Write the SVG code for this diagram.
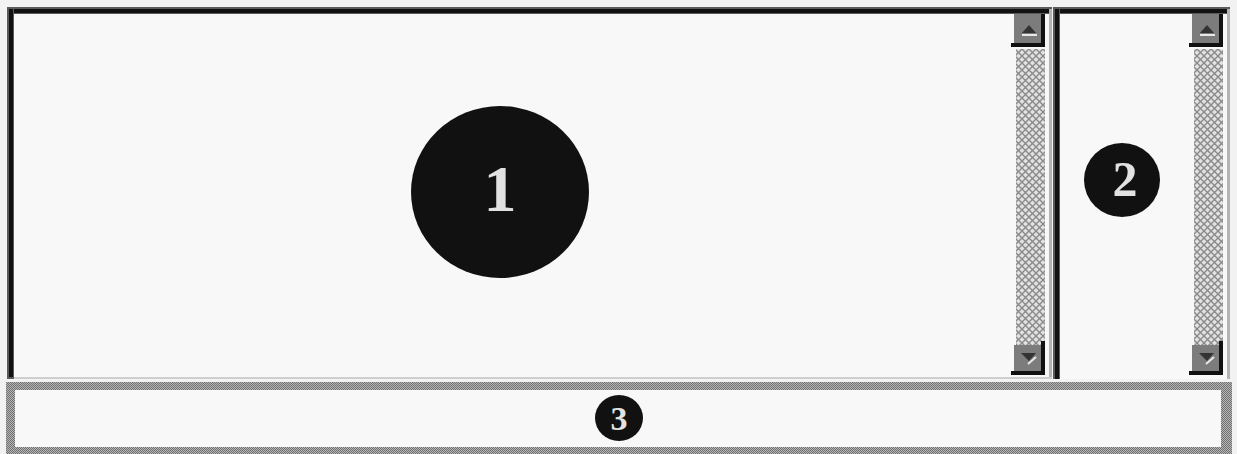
<svg xmlns="http://www.w3.org/2000/svg" width="1237" height="454" viewBox="0 0 1237 454">
<defs>
<pattern id="hatch" width="7" height="7" patternUnits="userSpaceOnUse">
<rect width="7" height="7" fill="#e2e2e2"/>
<path d="M0,0 L7,7 M7,0 L0,7" stroke="#8a8a8a" stroke-width="1.4"/>
</pattern>
<pattern id="checker" width="2" height="2" patternUnits="userSpaceOnUse">
<rect width="2" height="2" fill="#b4b4b4"/>
<rect width="1" height="1" fill="#727272"/>
<rect x="1" y="1" width="1" height="1" fill="#727272"/>
</pattern>
<g id="upbtn">
<rect x="0" y="0" width="30" height="30" fill="#7c7c7c"/>
<rect x="27" y="0" width="4" height="33" fill="#111"/>
<rect x="-3" y="29" width="34" height="4" fill="#111"/>
<path d="M8,19 L15,11 L22,19 Z" fill="#333"/>
<rect x="8" y="20" width="15" height="2" fill="#e8e8e8"/>
</g>
<g id="downbtn">
<rect x="0" y="0" width="30" height="28" fill="#7c7c7c"/>
<rect x="27" y="-4" width="4" height="32" fill="#111"/>
<rect x="-3" y="26" width="34" height="4" fill="#111"/>
<path d="M7,8 L22,8 L15,16 Z" fill="#333"/>
<path d="M14,19 L22,12" stroke="#e8e8e8" stroke-width="2"/>
</g>
</defs>
<style>
.num{font-family:"Liberation Serif","Times New Roman",serif;font-weight:bold;fill:#e2e2e2;text-anchor:middle}
.dot{fill:#111}
</style>
<rect width="1237" height="454" fill="#f2f2f2"/>

<g id="pane1">
<rect x="8" y="8" width="1044" height="371" fill="#f8f8f8"/>
<rect x="7" y="7" width="1045" height="7" fill="#5a5a5a"/>
<rect x="9" y="9" width="1043" height="4" fill="#111"/>
<rect x="7" y="7" width="7" height="372" fill="#5a5a5a"/>
<rect x="9" y="9" width="4" height="368" fill="#111"/>
<rect x="1049" y="9" width="3" height="370" fill="#b4b4b4"/>
<rect x="14" y="377" width="1038" height="2" fill="#cfcfcf"/>
</g>

<g id="scrollbar1">
<rect x="1016" y="49" width="29" height="296" fill="url(#hatch)"/>
<use href="#upbtn" x="1014" y="14"/>
<use href="#downbtn" x="1014" y="345"/>
</g>

<g id="pane2">
<rect x="1054" y="8" width="176" height="371" fill="#f8f8f8"/>
<rect x="1053" y="7" width="177" height="7" fill="#5a5a5a"/>
<rect x="1055" y="9" width="172" height="4" fill="#111"/>
<rect x="1053" y="7" width="7" height="372" fill="#5a5a5a"/>
<rect x="1055" y="9" width="4" height="370" fill="#111"/>
<rect x="1227" y="9" width="3" height="370" fill="#b4b4b4"/>
</g>

<g id="scrollbar2">
<rect x="1194" y="49" width="29" height="296" fill="url(#hatch)"/>
<use href="#upbtn" x="1192" y="14"/>
<use href="#downbtn" x="1192" y="345"/>
</g>

<g id="pane3">
<rect x="6" y="382" width="1226" height="72" fill="url(#checker)"/>
<rect x="15" y="390" width="1206" height="57" fill="#f8f8f8"/>
</g>

<g id="node1">
<ellipse class="dot" cx="500" cy="192" rx="89" ry="86"/>
<text class="num" x="500" y="211" font-size="66">1</text>
</g>

<g id="node2">
<ellipse class="dot" cx="1122" cy="180" rx="38" ry="37"/>
<text class="num" x="1125" y="196" font-size="50">2</text>
</g>

<g id="node3">
<ellipse class="dot" cx="619" cy="418" rx="24" ry="23"/>
<text class="num" x="619" y="430" font-size="34">3</text>
</g>
</svg>
